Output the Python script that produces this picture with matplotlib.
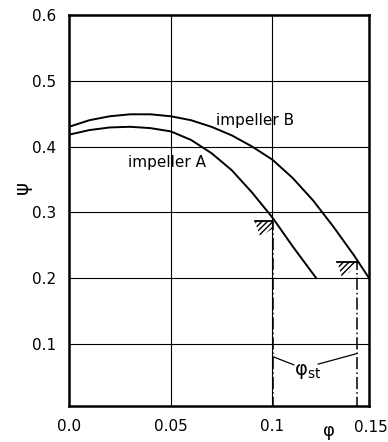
import matplotlib
matplotlib.use("Agg")
import matplotlib.pyplot as plt
from matplotlib.patches import Polygon
from matplotlib.transforms import blended_transform_factory

# head coefficient psi against flow coefficient phi
phi_b = [0.0, 0.01, 0.02, 0.03, 0.04, 0.05, 0.06, 0.07, 0.08, 0.09, 0.10,
         0.11, 0.12, 0.13, 0.14, 0.1475]
psi_b = [0.430, 0.440, 0.446, 0.449, 0.449, 0.446, 0.440, 0.430, 0.417,
         0.400, 0.380, 0.352, 0.318, 0.278, 0.235, 0.200]

phi_a = [0.0, 0.01, 0.02, 0.03, 0.04, 0.05, 0.06, 0.07, 0.08, 0.09, 0.10,
         0.11, 0.1215]
psi_a = [0.418, 0.425, 0.429, 0.430, 0.428, 0.423, 0.410, 0.390, 0.364,
         0.330, 0.292, 0.248, 0.200]

# stall points (phi_st, psi at stall)
stall_phi = [0.1005, 0.1415]
stall_psi = [0.287, 0.224]

x_ticks = [0.0, 0.05, 0.1]
x_labels = ["0.0", "0.05", "0.1"]
y_ticks = [0.1, 0.2, 0.3, 0.4, 0.5, 0.6]
y_labels = ["0.1", "0.2", "0.3", "0.4", "0.5", "0.6"]

fig = plt.figure(figsize=(3.88, 4.42), dpi=100)
ax = fig.add_axes([0.178, 0.081, 0.773, 0.885])

ax.set_xlim(0.0, 0.1475)
ax.set_ylim(0.005, 0.6)
ax.set_xticks(x_ticks, x_labels)
ax.set_yticks(y_ticks, y_labels)
ax.tick_params(length=0, labelsize=11, pad=9)
ax.grid(True, color="black", linewidth=0.8)
for side in ax.spines.values():
    side.set_linewidth(1.8)

ax.plot(phi_b, psi_b, color="black", linewidth=1.4)
ax.plot(phi_a, psi_a, color="black", linewidth=1.4)

# hatched stall marks
hatch_a = [(0.0912, 0.287), (0.1, 0.287), (0.1, 0.275), (0.094, 0.263)]
hatch_b = [(0.132, 0.224), (0.1415, 0.224), (0.138, 0.209), (0.134, 0.202)]
for verts in (hatch_a, hatch_b):
    ax.add_patch(Polygon(verts, closed=True, facecolor="none",
                         edgecolor="black", hatch="//////", linewidth=0))
    xs = [verts[0][0], verts[1][0]]
    ax.plot(xs, [verts[0][1]] * 2, color="black", linewidth=1.3)

for x, y in zip(stall_phi, stall_psi):
    ax.plot([x, x], [0.0, y], color="black", linewidth=1.1,
            linestyle=(0, (8, 2, 1, 2)))

ax.text(0.0725, 0.44, "impeller B", fontsize=11, va="center")
ax.text(0.029, 0.375, "impeller A", fontsize=11, va="center")

ax.text(0.1175, 0.058, r"$\mathregular{φ_{st}}$", fontsize=14,
        ha="center", va="center")
ax.plot([stall_phi[0], 0.1105], [0.080, 0.068], color="black", linewidth=0.9)
ax.plot([stall_phi[1], 0.1225], [0.085, 0.069], color="black", linewidth=0.9)

trans = blended_transform_factory(ax.transData, ax.transAxes)
ax.text(0.1565, -0.055, "0.15", transform=trans, ha="right", va="center",
        fontsize=11, clip_on=False)
ax.text(0.128, -0.064, "φ", transform=trans, ha="center", va="center",
        fontsize=13, clip_on=False)
ax.text(-0.157, 0.56, "ψ", transform=ax.transAxes, rotation=90,
        ha="center", va="center", fontsize=14)

fig.savefig("out.png", dpi=100)
